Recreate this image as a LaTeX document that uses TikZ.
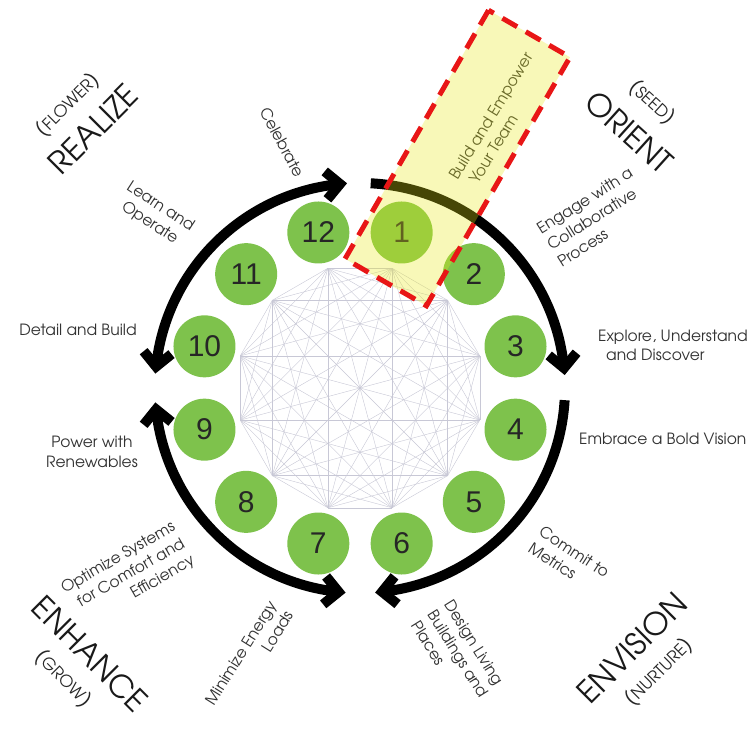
\documentclass[tikz,border=0pt]{standalone}
\usepackage{fontspec}
\setmainfont{TeX Gyre Adventor}
\newfontfamily\numfont{Liberation Sans}
\definecolor{nodegreen}{RGB}{126,194,76}
\definecolor{labelgray}{RGB}{50,50,50}
\definecolor{meshc}{RGB}{200,200,214}
\definecolor{boxred}{RGB}{232,22,22}
\definecolor{boxyellow}{RGB}{235,235,20}
\newcommand\chevat[2]{%
  \begin{scope}[shift={(#1:205)}, rotate=#2]
    \draw[chev] (-14,14) -- (0,0) -- (-14,-14);
  \end{scope}}
\begin{document}
\begin{tikzpicture}[x=1pt,y=1pt,
  lbl/.style={font=\fontsize{15.5}{19.5}\selectfont, text=labelgray, inner sep=0pt},
  big/.style={font=\fontsize{31}{31}\selectfont, text=black!90, inner sep=0pt},
  small/.style={font=\fontsize{16.5}{16.5}\selectfont, text=black!85, inner sep=0pt},
  stepnode/.style={circle, fill=nodegreen, minimum size=62pt, inner sep=0pt,
    font=\numfont\fontsize{30}{30}\selectfont, text=black!85},
  mesh/.style={draw=meshc, line width=0.4pt},
  arcline/.style={line width=10pt, black},
  chev/.style={line width=10pt, black, miter limit=10}]
\useasboundingbox (-360,-341) rectangle (388,388);
\fill[white] (-360,-341) rectangle (388,388);

% mesh of the twelve steps
\foreach \k in {1,...,12} \coordinate (m\k) at ({105-30*\k}:124);
\foreach \i in {1,...,12}{\foreach \l in {\i,...,12}{\draw[mesh] (m\i) -- (m\l);}}

% step circles
\foreach \k in {1,...,12} \node[stepnode] (n\k) at ({105-30*\k}:161) {\k};

% arcs
\draw[arcline] (87:205) arc[start angle=87, end angle=5.6, radius=205];
\chevat{5.6}{-84.4}
\draw[arcline] (-3.4:205) arc[start angle=-3.4, end angle=-83.8, radius=205];
\chevat{-83.8}{-173.8}
\draw[arcline] (264:205) arc[start angle=264, end angle=186, radius=205];
\chevat{264}{354}
\chevat{186}{96}
\draw[arcline] (174:205) arc[start angle=174, end angle=95.6, radius=205];
\chevat{174}{264}
\chevat{95.6}{5.6}

% labels
\node[lbl, rotate=-62] (celebrate) at (-78,246) {Celebrate};
\node[lbl, rotate=-33, align=center] (learn) at (-205,173) {Learn and\\Operate};
\node[big, rotate=45] (realize) at (-267,259) {REALIZE};
\node[small, rotate=45] (flower) at (-292,283) {{\fontsize{22}{22}\selectfont(}FLOWER{\fontsize{22}{22}\selectfont)}};
\node[lbl] (detail) at (-282,58) {Detail and Build};
\node[lbl, align=center] (power) at (-268,-64) {Power with\\Renewables};
\node[lbl, rotate=30, align=right] (optimize) at (-232,-187) {Optimize Systems\\for Comfort and\\Efficiency};
\node[big, rotate=-45] (enhance) at (-270,-266) {ENHANCE};
\node[small, rotate=-45] (grow) at (-297,-291) {{\fontsize{22}{22}\selectfont(}GROW{\fontsize{22}{22}\selectfont)}};
\node[lbl, rotate=58, align=right] (minimize) at (-111,-270) {Minimize Energy\\Loads};
\node[lbl, rotate=-58, align=left] (design) at (98,-266) {Design Living\\Buildings and\\Places};
\node[big, rotate=45] (envision) at (272,-260) {ENVISION};
\node[small, rotate=45] (nurture) at (299,-284) {{\fontsize{22}{22}\selectfont(}NURTURE{\fontsize{22}{22}\selectfont)}};
\node[lbl, rotate=-33, align=left] (commit) at (209,-172) {Commit to\\Metrics};
\node[lbl, anchor=west] (embrace) at (219,-51) {Embrace a Bold Vision};
\node[lbl, anchor=west, align=left] (explore) at (238,42.5) {Explore, Understand\\\hspace*{8pt}and Discover};
\node[lbl, rotate=32, align=left] (engage) at (235,171) {Engage with a\\Collaborative\\Process};
\node[big, rotate=-42] (orient) at (269,256) {ORIENT};
\node[small, rotate=-42] (seed) at (292,285) {{\fontsize{22}{22}\selectfont(}SEED{\fontsize{22}{22}\selectfont)}};
\node[lbl, rotate=58.5, align=left] (build) at (139,267) {Build and Empower\\\hspace*{7pt}Your Team};

% highlight box
\node[rotate=60, minimum width=287pt, minimum height=94pt, inner sep=0pt,
  fill=boxyellow, fill opacity=0.3, draw=boxred, draw opacity=1,
  line width=5pt, dash pattern=on 17pt off 10pt] (highlight) at (97.5,230) {};
\end{tikzpicture}
\end{document}
